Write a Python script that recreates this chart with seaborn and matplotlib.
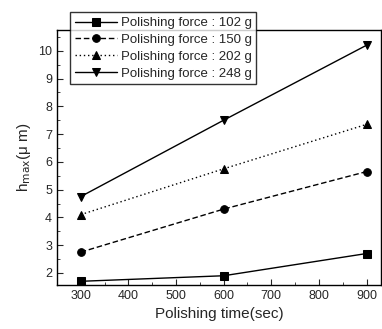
import pandas as pd
from matplotlib import pyplot as plt
from matplotlib.ticker import MultipleLocator
import seaborn as sn

times = [300, 600, 900]
force_labels = ["Polishing force : 102 g", "Polishing force : 150 g",
                "Polishing force : 202 g", "Polishing force : 248 g"]
h_102 = [1.7, 1.9, 2.7]
h_150 = [2.75, 4.3, 5.65]
h_202 = [4.1, 5.75, 7.35]
h_248 = [4.75, 7.5, 10.2]

df = pd.DataFrame({
    "time": times * 4,
    "hmax": h_102 + h_150 + h_202 + h_248,
    "force": [f for f in force_labels for _ in times],
})

sn.set_style("ticks")
plt.rcParams["font.family"] = ["Liberation Sans", "DejaVu Sans"]

fig = plt.figure(figsize=(3.82, 3.29), dpi=100)
ax = fig.add_axes([0.149, 0.134, 0.848, 0.775])

sn.lineplot(
    data=df, x="time", y="hmax", hue="force", style="force",
    palette=["black"] * 4,
    markers=["s", "o", "^", "v"],
    dashes=[(None, None), (4, 2), (1, 2), (None, None)],
    markersize=5.5, linewidth=1.0, markeredgecolor="black",
    ax=ax,
)

ax.set_xlim(250, 930)
ax.set_ylim(1.57, 10.75)
ax.xaxis.set_major_locator(MultipleLocator(100))
ax.xaxis.set_minor_locator(MultipleLocator(50))
ax.yaxis.set_minor_locator(MultipleLocator(0.5))
ax.set_yticks(range(2, 11))
ax.tick_params(which="both", direction="in", top=False, right=False, labelsize=9)
ax.tick_params(which="major", length=4)
ax.tick_params(which="minor", length=2)
for s in ax.spines.values():
    s.set_linewidth(1.0)
    s.set_color("black")

ax.set_xlabel("Polishing time(sec)", fontsize=11)
ax.set_ylabel("h$_{\\mathrm{max}}$(μ m)", fontsize=11)

leg = ax.legend(loc="upper left", bbox_to_anchor=(0.02, 1.095), frameon=True,
                fancybox=False, edgecolor="black", fontsize=9.5,
                handlelength=3.2, handletextpad=0.3, labelspacing=0.35,
                borderpad=0.35, title=None)
leg.get_frame().set_linewidth(1.0)

fig.savefig("out.png", dpi=100)
